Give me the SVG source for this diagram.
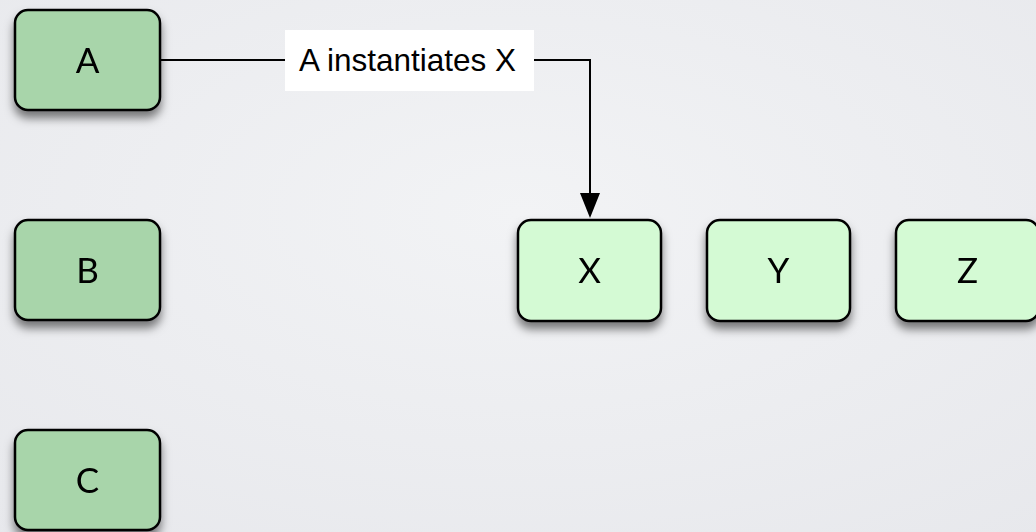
<svg xmlns="http://www.w3.org/2000/svg" width="1036" height="532" viewBox="0 0 1036 532">
<defs>
<radialGradient id="bg" cx="0.5" cy="0.4" r="0.8">
<stop offset="0" stop-color="#f2f3f5"/>
<stop offset="1" stop-color="#e7e8ec"/>
</radialGradient>
<filter id="sh" x="-20%" y="-20%" width="140%" height="160%">
<feDropShadow dx="0" dy="7" stdDeviation="5" flood-color="#000" flood-opacity="0.5"/>
</filter>
</defs>
<style>
.dk{fill:#a8d5aa;stroke:#000;stroke-width:2.5}
.lt{fill:#d4fad4;stroke:#000;stroke-width:2.5}
.t{font-family:Lato,"Open Sans","Liberation Sans",sans-serif;font-size:35px;fill:#000;text-anchor:middle}
.lbl{font-family:"Liberation Sans",Arial,sans-serif;font-size:31.5px;fill:#000}
.c{fill:none;stroke:#000;stroke-width:2}
</style>
<rect width="1036" height="532" fill="url(#bg)"/>
<g id="connectors">
<polyline class="c" points="160,60 590,60 590,193"/>
<path d="M580,193 L600,193 L590,218 Z" fill="#000"/>
<rect x="285" y="30" width="249" height="61" fill="#fff"/>
<text class="lbl" x="299" y="71">A instantiates X</text>
</g>
<g id="A" filter="url(#sh)"><rect class="dk" x="15" y="10" width="145" height="100" rx="13"/><text class="t" x="87.5" y="72.5">A</text></g>
<g id="B" filter="url(#sh)"><rect class="dk" x="15" y="220" width="145" height="100" rx="13"/><text class="t" x="87.5" y="282.5">B</text></g>
<g id="C" filter="url(#sh)"><rect class="dk" x="15" y="430" width="145" height="100" rx="13"/><text class="t" x="87.5" y="492.5">C</text></g>
<g id="X" filter="url(#sh)"><rect class="lt" x="518" y="220" width="143" height="101" rx="13"/><text class="t" x="589.5" y="282.5">X</text></g>
<g id="Y" filter="url(#sh)"><rect class="lt" x="707" y="220" width="143" height="101" rx="13"/><text class="t" x="778.5" y="282.5">Y</text></g>
<g id="Z" filter="url(#sh)"><rect class="lt" x="896" y="220" width="143" height="101" rx="13"/><text class="t" x="967.5" y="282.5">Z</text></g>
</svg>
